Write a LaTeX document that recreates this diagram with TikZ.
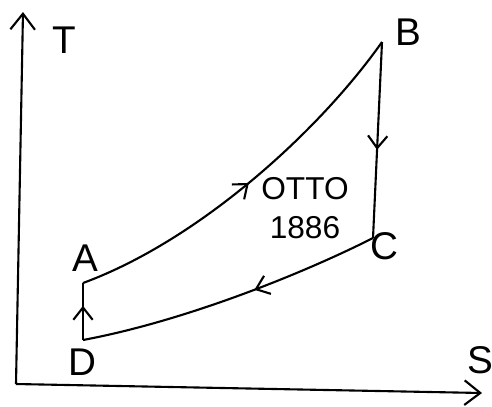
\documentclass[tikz,border=0pt]{standalone}
\usepackage{fontspec}
\setmainfont{Liberation Sans}
\usepackage{tikz}
\usetikzlibrary{arrows.meta,positioning,decorations.markings}

\begin{document}
\begin{tikzpicture}[
      x=0.02cm,y=-0.02cm,
      line width=1.2pt,
      axis/.style={-{Straight Barb[length=9pt,width=14pt]}},
      mid/.style={postaction={decorate},decoration={markings,
        mark=at position #1 with {\arrow{Straight Barb[length=7pt,width=11pt]}}}},
      lbl/.style={font=\fontsize{22}{24}\selectfont,inner sep=1pt}
    ]
    \useasboundingbox (0,0) rectangle (492,406);
    % axes
    \coordinate (origin) at (16,384);
    \coordinate (ttip) at (23,12);
    \coordinate (stip) at (482,393);
    \draw[axis] (origin) -- (ttip);
    \draw[axis] (origin) -- (stip);
    \node[lbl] (tlab) at (64,40) {T};
    \node[lbl] (slab) at (480,360) {S};
    % states
    \coordinate (A) at (83,283);
    \coordinate (B) at (382,42);
    \coordinate (C) at (373,238);
    \coordinate (D) at (83,340);
    \node[lbl] (alab) at (85,258) {A};
    \node[lbl] (blab) at (408,32) {B};
    \node[lbl] (clab) at (384,246) {C};
    \node[lbl] (dlab) at (82,362) {D};
    % cycle
    \draw[mid=0.5] (A) .. controls (200,240) and (320,130) .. (B);
    \draw[mid=0.55] (B) -- (C);
    \draw[mid=0.42] (C) .. controls (310,270) and (190,320) .. (D);
    \draw[mid=0.6] (D) -- (A);
    \node[lbl,align=center,font=\fontsize{18}{22}\selectfont] (otto) at (305,208) {OTTO\\1886};
  \end{tikzpicture}
\end{document}
